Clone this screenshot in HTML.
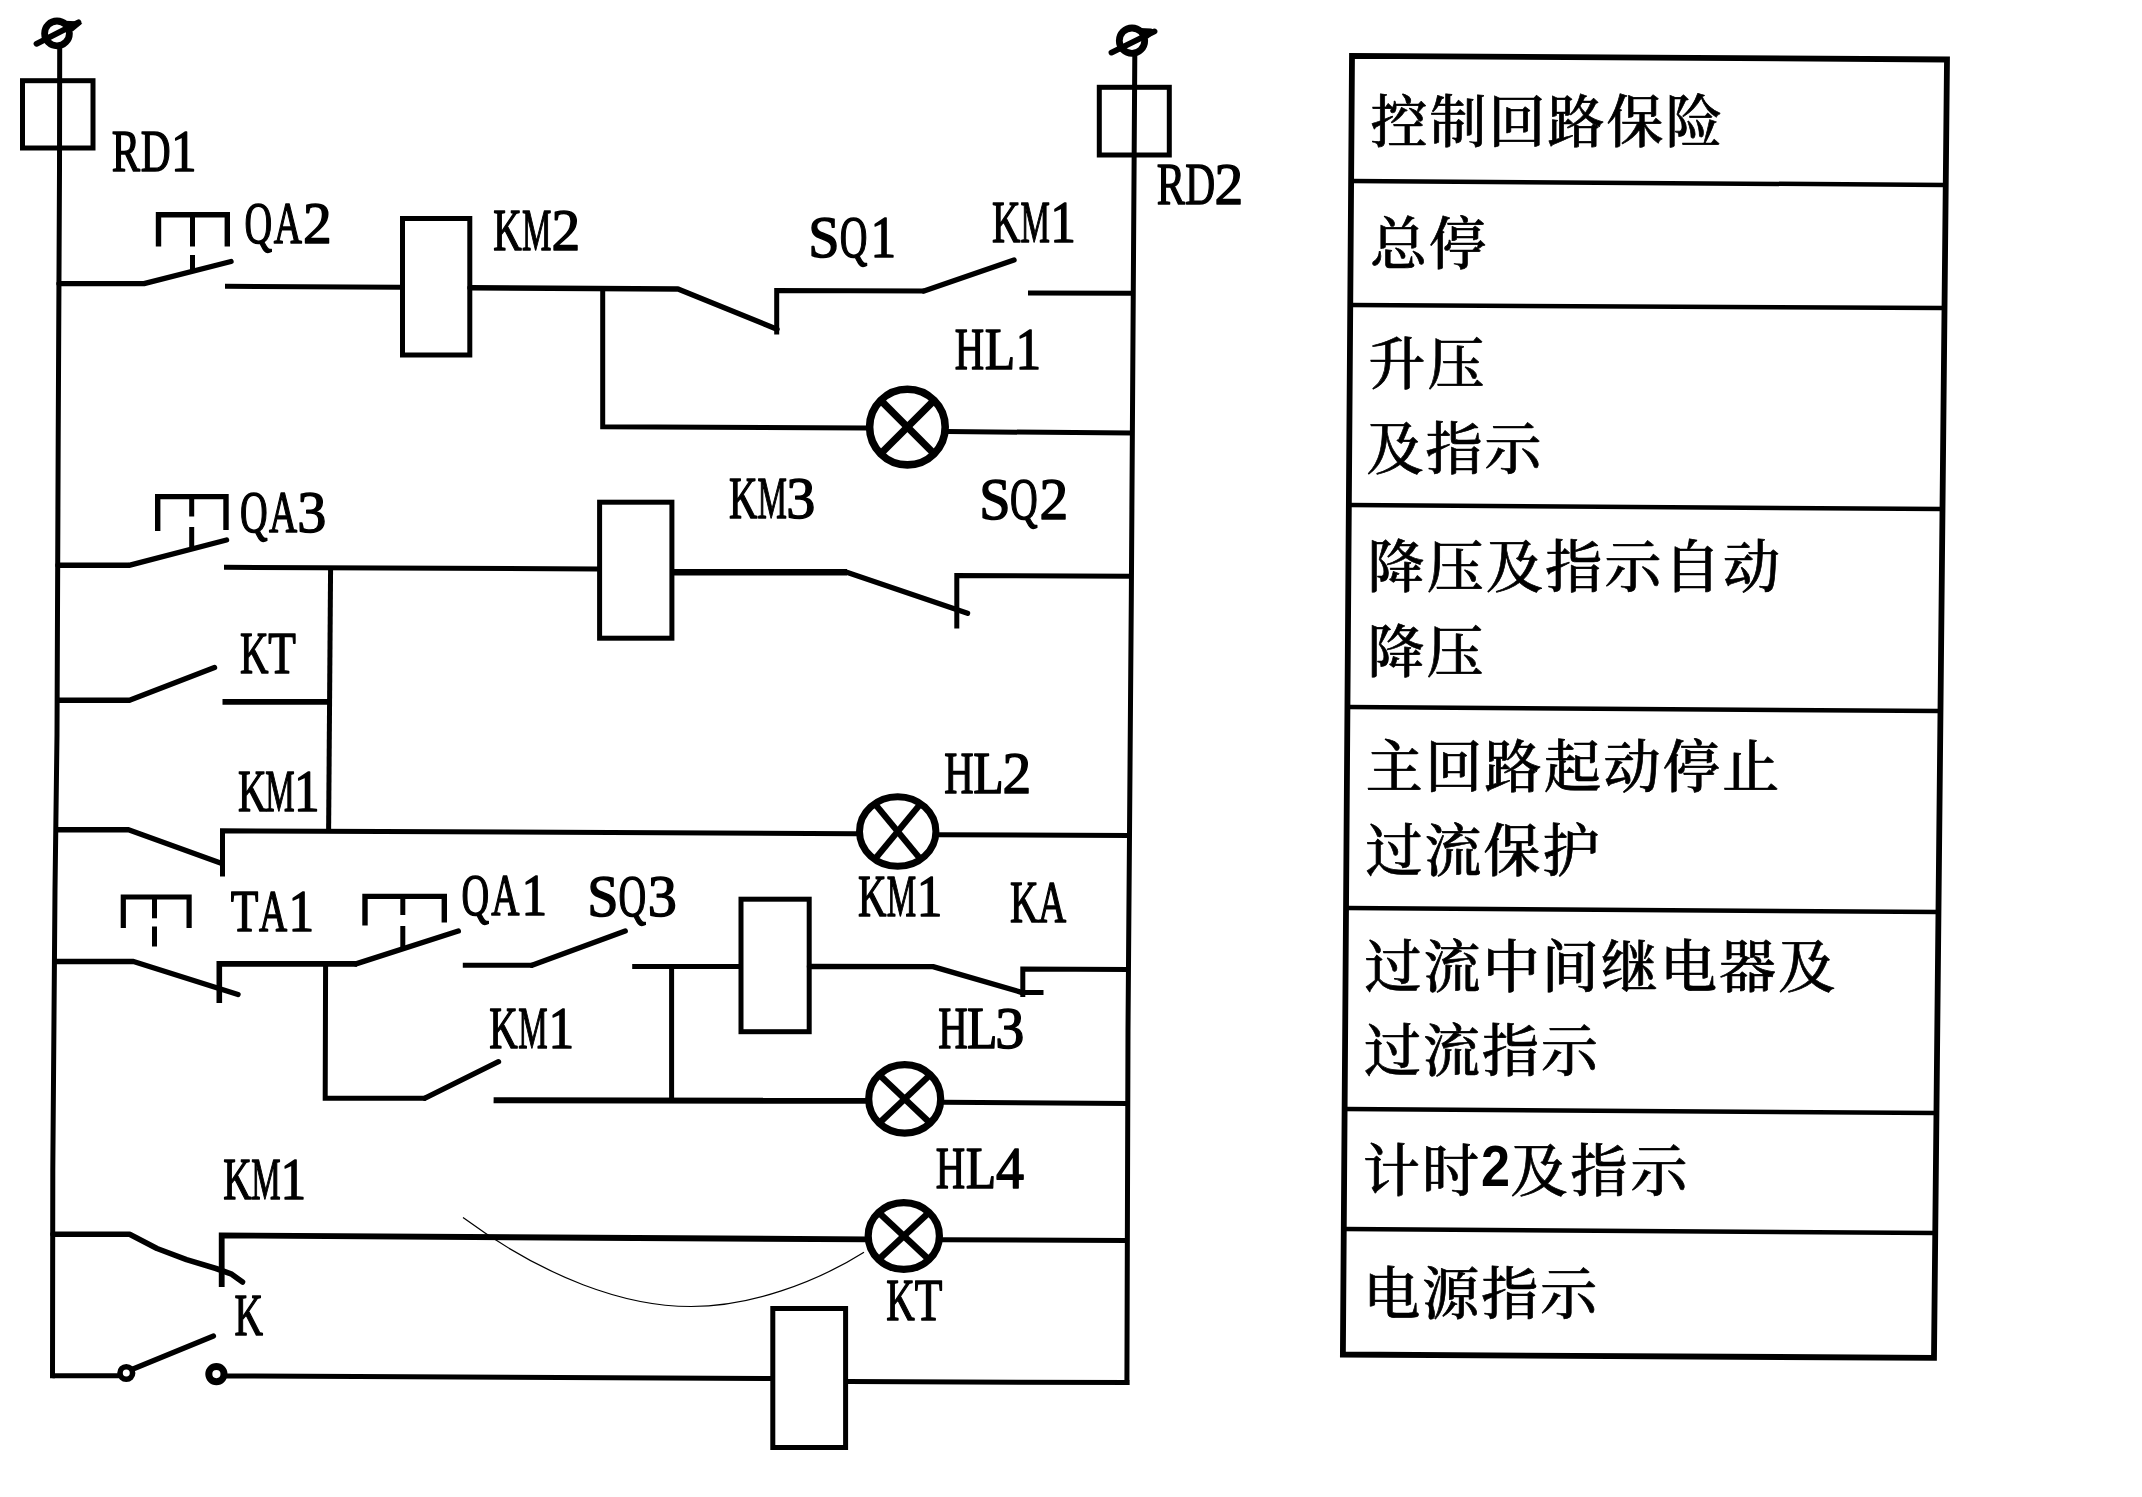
<!DOCTYPE html>
<html lang="zh"><head><meta charset="utf-8"><title>控制回路</title>
<style>
html,body{margin:0;padding:0;background:#fff}
svg{display:block;filter:grayscale(1)}
.w *{fill:none;stroke:#000}
.lab{font-family:"Liberation Serif","Noto Serif CJK SC",serif;font-size:60px;fill:#000;stroke:#000;stroke-width:1.5px;stroke-linejoin:round}
.n2{font-family:"Liberation Sans",sans-serif;font-weight:700;font-size:57px;letter-spacing:0;stroke-width:0}
.cj{font-family:"Liberation Serif","Noto Serif CJK SC",serif;font-size:57px;fill:#000;font-weight:500;letter-spacing:2px;stroke:#000;stroke-width:0.7px;stroke-linejoin:round}
</style></head><body>
<svg width="2142" height="1497" viewBox="0 0 2142 1497">
<rect width="2142" height="1497" fill="#fff"/>
<g class="w">
<polyline points="59.7,46 59.5,170 58.2,440 57,735 55,890 52.8,1170 52.5,1378.2" stroke-width="5.0" stroke-linecap="butt" stroke-linejoin="round"/>
<polyline points="1134.8,55 1131.3,600 1128,1030 1126.9,1385" stroke-width="5.0" stroke-linecap="butt" stroke-linejoin="round"/>
<circle cx="57" cy="33.4" r="12.4" stroke-width="6.8"/>
<polyline points="36.5,43.8 78.5,22.3" stroke-width="5.8" stroke-linecap="round" stroke-linejoin="miter"/>
<circle cx="1132" cy="40.7" r="12.7" stroke-width="6.8"/>
<polyline points="1111.5,52.6 1154.5,31.4" stroke-width="5.8" stroke-linecap="round" stroke-linejoin="miter"/>
<polygon points="65,20.7 76,21.2 82.3,23.4 73,31.2 66,28.7" style="fill:#000;stroke:none"/>
<polygon points="1140,28.0 1151,28.5 1157.3,30.7 1148,38.5 1141,36.0" style="fill:#000;stroke:none"/>
<rect x="22.5" y="80.7" width="70.5" height="67.3" stroke-width="5.0"/>
<rect x="1099.3" y="87.3" width="70.0" height="67.7" stroke-width="5.0"/>
<polyline points="59,283.6 144,283.6 231,261.5" stroke-width="5.4" stroke-linecap="round" stroke-linejoin="round"/>
<polyline points="158.5,246.5 158.5,214.8 227.3,214.8 227.3,246.5" stroke-width="5.4" stroke-linecap="butt" stroke-linejoin="miter"/>
<polyline points="192.5,214 192.5,246.5" stroke-width="5.0" stroke-linecap="butt" stroke-linejoin="miter"/>
<polyline points="192.5,255 192.5,271" stroke-width="5.0" stroke-linecap="butt" stroke-linejoin="miter"/>
<polyline points="225,286.3 400,287.3" stroke-width="5.0" stroke-linecap="butt" stroke-linejoin="miter"/>
<rect x="402.5" y="218.5" width="67.3" height="136.5" stroke-width="5.0"/>
<polyline points="470,287.8 678,289 777,329.2" stroke-width="5.4" stroke-linecap="round" stroke-linejoin="round"/>
<polyline points="776.7,334.5 776.7,290.5 924,291" stroke-width="5.0" stroke-linecap="butt" stroke-linejoin="miter"/>
<polyline points="924,291 1014,260" stroke-width="5.4" stroke-linecap="round" stroke-linejoin="round"/>
<polyline points="1028,293 1133,293.3" stroke-width="5.0" stroke-linecap="butt" stroke-linejoin="miter"/>
<polyline points="602.7,288 602.7,426.8 867,428" stroke-width="5.0" stroke-linecap="butt" stroke-linejoin="miter"/>
<ellipse cx="907.4" cy="427.1" rx="37.8" ry="37.8" stroke-width="7.6"/>
<polyline points="880.7,400.4 934.1,453.8" stroke-width="7.2" stroke-linecap="butt" stroke-linejoin="miter"/>
<polyline points="880.7,453.8 934.1,400.4" stroke-width="7.2" stroke-linecap="butt" stroke-linejoin="miter"/>
<polyline points="947,431.6 1132.5,433" stroke-width="5.0" stroke-linecap="butt" stroke-linejoin="miter"/>
<polyline points="58,565.3 129,565.3 226.5,540" stroke-width="5.4" stroke-linecap="round" stroke-linejoin="round"/>
<polyline points="157.7,531 157.7,496.6 226,496.6 226,530" stroke-width="5.4" stroke-linecap="butt" stroke-linejoin="miter"/>
<polyline points="191.7,496 191.7,516.5" stroke-width="5.0" stroke-linecap="butt" stroke-linejoin="miter"/>
<polyline points="191.7,527 191.7,548" stroke-width="5.0" stroke-linecap="butt" stroke-linejoin="miter"/>
<polyline points="224,567.3 598,569" stroke-width="5.0" stroke-linecap="butt" stroke-linejoin="miter"/>
<rect x="599.6" y="502.2" width="72.3" height="136.0" stroke-width="5.0"/>
<polyline points="673,572.2 847,572.2" stroke-width="6.4" stroke-linecap="butt" stroke-linejoin="miter"/>
<polyline points="846,572 967.5,613.3" stroke-width="5.4" stroke-linecap="round" stroke-linejoin="round"/>
<polyline points="956.8,628.5 956.8,575.4 1131.5,576.2" stroke-width="5.0" stroke-linecap="butt" stroke-linejoin="miter"/>
<polyline points="330.6,566 328.6,832" stroke-width="5.0" stroke-linecap="butt" stroke-linejoin="miter"/>
<polyline points="58,700.3 129.5,700.3 214.5,667.5" stroke-width="5.4" stroke-linecap="round" stroke-linejoin="round"/>
<polyline points="222.5,701.8 331,701.8" stroke-width="5.8" stroke-linecap="butt" stroke-linejoin="miter"/>
<polyline points="57,829.7 128.5,829.7 220.5,863" stroke-width="5.4" stroke-linecap="round" stroke-linejoin="round"/>
<polyline points="222.5,876.6 222.5,830.8 857,833.7" stroke-width="5.0" stroke-linecap="butt" stroke-linejoin="miter"/>
<ellipse cx="897.7" cy="831.5" rx="38.2" ry="34.8" stroke-width="7"/>
<polyline points="874.8,803.7 920.6,859.3" stroke-width="6.2" stroke-linecap="butt" stroke-linejoin="miter"/>
<polyline points="874.8,859.3 920.6,803.7" stroke-width="6.2" stroke-linecap="butt" stroke-linejoin="miter"/>
<polyline points="937,834.8 1130,835.5" stroke-width="5.0" stroke-linecap="butt" stroke-linejoin="miter"/>
<polyline points="55,961.5 133.5,961.5 238,994.5" stroke-width="5.4" stroke-linecap="round" stroke-linejoin="round"/>
<polyline points="219.3,1003 219.3,963.9 357,963.9" stroke-width="5.6" stroke-linecap="butt" stroke-linejoin="miter"/>
<polyline points="356,963.9 458.3,931" stroke-width="5.4" stroke-linecap="round" stroke-linejoin="round"/>
<polyline points="123.3,928 123.3,897 189.1,897 189.1,928" stroke-width="5.2" stroke-linecap="butt" stroke-linejoin="miter"/>
<polyline points="154.5,896.5 154.5,918.3" stroke-width="5.0" stroke-linecap="butt" stroke-linejoin="miter"/>
<polyline points="154.5,926.5 154.5,946.5" stroke-width="5.0" stroke-linecap="butt" stroke-linejoin="miter"/>
<polyline points="365,925.6 365,896.4 444.3,896.4 444.3,922.5" stroke-width="5.4" stroke-linecap="butt" stroke-linejoin="miter"/>
<polyline points="402.8,896 402.8,915" stroke-width="5.0" stroke-linecap="butt" stroke-linejoin="miter"/>
<polyline points="402.8,926 402.8,948" stroke-width="5.0" stroke-linecap="butt" stroke-linejoin="miter"/>
<polyline points="462.8,965.3 533,965.3" stroke-width="5.0" stroke-linecap="butt" stroke-linejoin="miter"/>
<polyline points="532,965.3 625.2,931" stroke-width="5.4" stroke-linecap="round" stroke-linejoin="round"/>
<polyline points="632.2,966.4 741,966.4" stroke-width="5.0" stroke-linecap="butt" stroke-linejoin="miter"/>
<rect x="741" y="899.2" width="68.2" height="132.5" stroke-width="5.0"/>
<polyline points="809.5,966.5 933,966.6 1021.5,992.3" stroke-width="5.4" stroke-linecap="round" stroke-linejoin="round"/>
<polyline points="1022.8,997 1022.8,969 1129,969.5" stroke-width="5.0" stroke-linecap="butt" stroke-linejoin="miter"/>
<polyline points="1020.5,992.5 1043.5,992.5" stroke-width="5.0" stroke-linecap="butt" stroke-linejoin="miter"/>
<polyline points="325.6,962 325.2,1098.2 426,1098.2" stroke-width="5.0" stroke-linecap="butt" stroke-linejoin="miter"/>
<polyline points="425,1098.2 498.5,1061.7" stroke-width="5.4" stroke-linecap="round" stroke-linejoin="round"/>
<polyline points="493.6,1100.2 868,1100.8" stroke-width="6" stroke-linecap="butt" stroke-linejoin="miter"/>
<ellipse cx="904.7" cy="1098.9" rx="36" ry="34.2" stroke-width="7.2"/>
<polyline points="879.2,1074.7 930.2,1123.1" stroke-width="6.4" stroke-linecap="butt" stroke-linejoin="miter"/>
<polyline points="879.2,1123.1 930.2,1074.7" stroke-width="6.4" stroke-linecap="butt" stroke-linejoin="miter"/>
<polyline points="942,1102.3 1128,1103.6" stroke-width="5.0" stroke-linecap="butt" stroke-linejoin="miter"/>
<polyline points="671.6,966 671.6,1100" stroke-width="5.0" stroke-linecap="butt" stroke-linejoin="miter"/>
<path d="M53,1234.3 L129.6,1234.3 L157,1248.5 L186.5,1259.6 L216,1268.5 L231.7,1274.2 L242.5,1282" stroke-width="5.6" stroke-linecap="round" stroke-linejoin="round"/>
<polyline points="221.7,1287 221.7,1235.5 868,1239.4" stroke-width="5.8" stroke-linecap="butt" stroke-linejoin="miter"/>
<ellipse cx="903.8" cy="1236" rx="35.6" ry="33.4" stroke-width="7.2"/>
<polyline points="878.6,1212.4 929.0,1259.6" stroke-width="6.6" stroke-linecap="butt" stroke-linejoin="miter"/>
<polyline points="878.6,1259.6 929.0,1212.4" stroke-width="6.6" stroke-linecap="butt" stroke-linejoin="miter"/>
<polyline points="942,1239.7 1127,1240.6" stroke-width="5.0" stroke-linecap="butt" stroke-linejoin="miter"/>
<path d="M463,1217.5 C545,1278 625,1306.5 691,1306.5 C750,1306.5 815,1283 864,1252.2" stroke-width="1.2"/>
<polyline points="52.5,1375.7 121,1375.7" stroke-width="5.0" stroke-linecap="butt" stroke-linejoin="miter"/>
<circle cx="126.3" cy="1373" r="6.3" stroke-width="5.6"/>
<polyline points="133,1369 213.5,1336" stroke-width="5.2" stroke-linecap="round" stroke-linejoin="round"/>
<circle cx="216.4" cy="1374.1" r="7.6" stroke-width="7"/>
<polyline points="223.5,1375.9 772,1378.6" stroke-width="5.0" stroke-linecap="butt" stroke-linejoin="miter"/>
<rect x="772.8" y="1308.5" width="72.8" height="139.0" stroke-width="5.0"/>
<polyline points="848,1381.6 1129.4,1382.6" stroke-width="5.0" stroke-linecap="butt" stroke-linejoin="miter"/>
<polygon points="1352,55.8 1947,59.5 1934,1357.9 1342.9,1354.5" stroke-width="5.8" stroke-linejoin="miter"/>
<polyline points="1351.1,181 1945.7,185" stroke-width="4.5" stroke-linecap="butt" stroke-linejoin="miter"/>
<polyline points="1350.3,305 1944.5,308" stroke-width="4.5" stroke-linecap="butt" stroke-linejoin="miter"/>
<polyline points="1348.9,505 1942.5,509" stroke-width="4.5" stroke-linecap="butt" stroke-linejoin="miter"/>
<polyline points="1347.4,707 1940.5,711" stroke-width="4.5" stroke-linecap="butt" stroke-linejoin="miter"/>
<polyline points="1346.0,908 1938.5,912" stroke-width="4.5" stroke-linecap="butt" stroke-linejoin="miter"/>
<polyline points="1344.6,1109 1936.5,1113" stroke-width="4.5" stroke-linecap="butt" stroke-linejoin="miter"/>
<polyline points="1343.8,1229 1935.3,1233" stroke-width="4.5" stroke-linecap="butt" stroke-linejoin="miter"/>
</g>
<g class="lab" opacity="0.999">
<text aria-label="RD1" y="170.8"><tspan x="111.8" textLength="28.3" lengthAdjust="spacingAndGlyphs">R</tspan><tspan x="140.8" textLength="29.9" lengthAdjust="spacingAndGlyphs">D</tspan><tspan x="171.0" textLength="25.6" lengthAdjust="spacingAndGlyphs">1</tspan></text>
<text aria-label="QA2" y="242.7"><tspan x="244.4" textLength="27.7" lengthAdjust="spacingAndGlyphs">Q</tspan><tspan x="273.7" textLength="28.2" lengthAdjust="spacingAndGlyphs">A</tspan><tspan x="303.0" textLength="28.7" lengthAdjust="spacingAndGlyphs">2</tspan></text>
<text aria-label="KM2" y="250.1"><tspan x="493.2" textLength="28.5" lengthAdjust="spacingAndGlyphs">K</tspan><tspan x="521.9" textLength="29.4" lengthAdjust="spacingAndGlyphs">M</tspan><tspan x="551.5" textLength="28.7" lengthAdjust="spacingAndGlyphs">2</tspan></text>
<text aria-label="SQ1" y="257.0"><tspan x="808.2" textLength="31.3" lengthAdjust="spacingAndGlyphs">S</tspan><tspan x="839.7" textLength="27.7" lengthAdjust="spacingAndGlyphs">Q</tspan><tspan x="870.5" textLength="25.6" lengthAdjust="spacingAndGlyphs">1</tspan></text>
<text aria-label="KM1" y="241.8"><tspan x="991.9" textLength="28.5" lengthAdjust="spacingAndGlyphs">K</tspan><tspan x="1020.4" textLength="29.4" lengthAdjust="spacingAndGlyphs">M</tspan><tspan x="1050.2" textLength="25.6" lengthAdjust="spacingAndGlyphs">1</tspan></text>
<text aria-label="RD2" y="204.3"><tspan x="1156.8" textLength="28.3" lengthAdjust="spacingAndGlyphs">R</tspan><tspan x="1185.3" textLength="29.9" lengthAdjust="spacingAndGlyphs">D</tspan><tspan x="1214.4" textLength="28.7" lengthAdjust="spacingAndGlyphs">2</tspan></text>
<text aria-label="HL1" y="368.7"><tspan x="954.8" textLength="29.4" lengthAdjust="spacingAndGlyphs">H</tspan><tspan x="984.8" textLength="30.4" lengthAdjust="spacingAndGlyphs">L</tspan><tspan x="1015.5" textLength="25.6" lengthAdjust="spacingAndGlyphs">1</tspan></text>
<text aria-label="QA3" y="531.8"><tspan x="239.9" textLength="27.7" lengthAdjust="spacingAndGlyphs">Q</tspan><tspan x="269.0" textLength="28.2" lengthAdjust="spacingAndGlyphs">A</tspan><tspan x="297.2" textLength="29.1" lengthAdjust="spacingAndGlyphs">3</tspan></text>
<text aria-label="KM3" y="518.0"><tspan x="728.9" textLength="28.5" lengthAdjust="spacingAndGlyphs">K</tspan><tspan x="757.5" textLength="29.4" lengthAdjust="spacingAndGlyphs">M</tspan><tspan x="786.2" textLength="29.1" lengthAdjust="spacingAndGlyphs">3</tspan></text>
<text aria-label="SQ2" y="519.0"><tspan x="979.2" textLength="31.3" lengthAdjust="spacingAndGlyphs">S</tspan><tspan x="1009.9" textLength="27.7" lengthAdjust="spacingAndGlyphs">Q</tspan><tspan x="1039.5" textLength="28.7" lengthAdjust="spacingAndGlyphs">2</tspan></text>
<text aria-label="KT" y="673.2"><tspan x="239.9" textLength="28.5" lengthAdjust="spacingAndGlyphs">K</tspan><tspan x="268.2" textLength="27.6" lengthAdjust="spacingAndGlyphs">T</tspan></text>
<text aria-label="KM1" y="811.0"><tspan x="237.9" textLength="28.5" lengthAdjust="spacingAndGlyphs">K</tspan><tspan x="265.3" textLength="29.4" lengthAdjust="spacingAndGlyphs">M</tspan><tspan x="294.0" textLength="25.6" lengthAdjust="spacingAndGlyphs">1</tspan></text>
<text aria-label="HL2" y="792.5"><tspan x="944.3" textLength="29.4" lengthAdjust="spacingAndGlyphs">H</tspan><tspan x="973.3" textLength="30.4" lengthAdjust="spacingAndGlyphs">L</tspan><tspan x="1002.5" textLength="28.7" lengthAdjust="spacingAndGlyphs">2</tspan></text>
<text aria-label="TA1" y="931.3"><tspan x="230.7" textLength="27.6" lengthAdjust="spacingAndGlyphs">T</tspan><tspan x="259.1" textLength="28.2" lengthAdjust="spacingAndGlyphs">A</tspan><tspan x="288.5" textLength="25.6" lengthAdjust="spacingAndGlyphs">1</tspan></text>
<text aria-label="QA1" y="915.0"><tspan x="461.4" textLength="27.7" lengthAdjust="spacingAndGlyphs">Q</tspan><tspan x="491.2" textLength="28.2" lengthAdjust="spacingAndGlyphs">A</tspan><tspan x="521.5" textLength="25.6" lengthAdjust="spacingAndGlyphs">1</tspan></text>
<text aria-label="SQ3" y="915.8"><tspan x="587.2" textLength="31.3" lengthAdjust="spacingAndGlyphs">S</tspan><tspan x="618.5" textLength="27.7" lengthAdjust="spacingAndGlyphs">Q</tspan><tspan x="647.8" textLength="29.1" lengthAdjust="spacingAndGlyphs">3</tspan></text>
<text aria-label="KM1" y="916.0"><tspan x="858.1" textLength="28.5" lengthAdjust="spacingAndGlyphs">K</tspan><tspan x="886.7" textLength="29.4" lengthAdjust="spacingAndGlyphs">M</tspan><tspan x="916.7" textLength="25.6" lengthAdjust="spacingAndGlyphs">1</tspan></text>
<text aria-label="KA" y="922.0"><tspan x="1009.9" textLength="28.5" lengthAdjust="spacingAndGlyphs">K</tspan><tspan x="1038.1" textLength="28.2" lengthAdjust="spacingAndGlyphs">A</tspan></text>
<text aria-label="KM1" y="1048.2"><tspan x="489.2" textLength="28.5" lengthAdjust="spacingAndGlyphs">K</tspan><tspan x="518.2" textLength="29.4" lengthAdjust="spacingAndGlyphs">M</tspan><tspan x="548.5" textLength="25.6" lengthAdjust="spacingAndGlyphs">1</tspan></text>
<text aria-label="HL3" y="1048.2"><tspan x="938.3" textLength="29.4" lengthAdjust="spacingAndGlyphs">H</tspan><tspan x="967.1" textLength="30.4" lengthAdjust="spacingAndGlyphs">L</tspan><tspan x="995.2" textLength="29.1" lengthAdjust="spacingAndGlyphs">3</tspan></text>
<text aria-label="KM1" y="1199.0"><tspan x="223.2" textLength="28.5" lengthAdjust="spacingAndGlyphs">K</tspan><tspan x="251.2" textLength="29.4" lengthAdjust="spacingAndGlyphs">M</tspan><tspan x="280.5" textLength="25.6" lengthAdjust="spacingAndGlyphs">1</tspan></text>
<text aria-label="HL4" y="1188.1"><tspan x="935.8" textLength="29.4" lengthAdjust="spacingAndGlyphs">H</tspan><tspan x="965.8" textLength="30.4" lengthAdjust="spacingAndGlyphs">L</tspan><tspan x="995.9" textLength="28.0" lengthAdjust="spacingAndGlyphs">4</tspan></text>
<text aria-label="K" y="1334.5"><tspan x="234.4" textLength="28.5" lengthAdjust="spacingAndGlyphs">K</tspan></text>
<text aria-label="KT" y="1320.1"><tspan x="886.2" textLength="28.5" lengthAdjust="spacingAndGlyphs">K</tspan><tspan x="914.7" textLength="27.6" lengthAdjust="spacingAndGlyphs">T</tspan></text>
</g>
<g class="cj" opacity="0.999">
<text x="1370.5" y="141.5">控制回路保险</text>
<text x="1370.0" y="264.2">总停</text>
<text x="1368.5" y="383.5">升压</text>
<text x="1366.5" y="468.5">及指示</text>
<text x="1367.5" y="586.5" style="letter-spacing:2.25px">降压及指示自动</text>
<text x="1367.5" y="671.5">降压</text>
<text x="1365.8" y="786.5" style="letter-spacing:2.4px">主回路起动停止</text>
<text x="1365.5" y="870.5">过流保护</text>
<text x="1364.5" y="986.5" style="letter-spacing:2.1px">过流中间继电器及</text>
<text x="1364.0" y="1070.5">过流指示</text>
<text x="1363.0" y="1190.5">计时<tspan class="n2" dy="-4.6" textLength="29" lengthAdjust="spacingAndGlyphs">2</tspan><tspan x="1510.6" dy="4.6" style="letter-spacing:3px">及指示</tspan></text>
<text x="1363.2" y="1313.5">电源指示</text>
</g>
</svg>
</body></html>
